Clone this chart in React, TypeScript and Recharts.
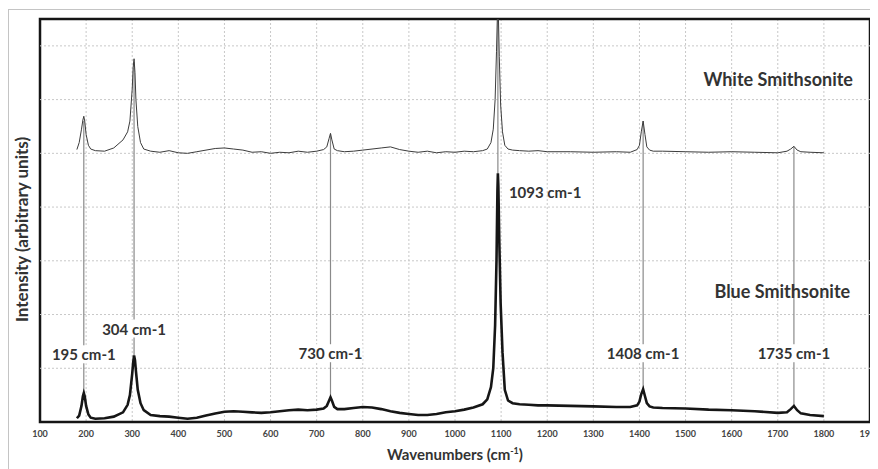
import React from "react";
import {
  LineChart,
  Line,
  XAxis,
  YAxis,
  CartesianGrid,
  ReferenceLine,
  ReferenceArea,
  ReferenceDot,
} from "recharts";

// Wavenumbers (cm-1)
const wavenumbers = [
  180, 185, 190, 193, 195, 197, 200, 205, 210, 220, 240, 260, 280, 290, 295, 300, 302, 304, 306, 308,
  312, 318, 325, 340, 360, 380, 400, 420, 440, 460, 480, 500, 520, 540, 560, 580, 600, 620, 640, 660,
  680, 700, 715, 722, 727, 730, 733, 738, 745, 760, 780, 800, 820, 840, 860, 880, 900, 920, 940, 960,
  980, 1000, 1020, 1040, 1060, 1070, 1078, 1083, 1087, 1090, 1092, 1093, 1094, 1096, 1099, 1103, 1108,
  1115, 1125, 1140, 1160, 1180, 1200, 1250, 1300, 1350, 1380, 1395, 1400, 1404, 1408, 1412, 1416, 1422,
  1430, 1450, 1500, 1550, 1600, 1650, 1700, 1720, 1728, 1735, 1742, 1750, 1770, 1800,
];

// Blue Smithsonite intensity (arbitrary units)
const blueIntensity = [
  0.07, 0.12, 0.3, 0.48, 0.54, 0.48, 0.3, 0.14, 0.08, 0.06, 0.07, 0.1, 0.18, 0.32, 0.5, 0.9, 1.1, 1.24, 1.15, 0.95,
  0.6, 0.35, 0.22, 0.13, 0.11, 0.1, 0.08, 0.06, 0.08, 0.12, 0.16, 0.19, 0.2, 0.19, 0.18, 0.17, 0.18, 0.2, 0.22, 0.23,
  0.22, 0.23, 0.25, 0.3, 0.4, 0.46, 0.4, 0.28, 0.24, 0.24, 0.26, 0.28, 0.27, 0.24, 0.2, 0.17, 0.15, 0.13, 0.13, 0.15,
  0.18, 0.2, 0.23, 0.27, 0.33, 0.42, 0.65, 1.0, 1.8, 3.0, 4.3, 4.63, 4.4, 3.4, 2.2, 1.3, 0.6,
  0.4, 0.35, 0.33, 0.32, 0.31, 0.31, 0.3, 0.29, 0.28, 0.28, 0.31, 0.38, 0.52, 0.61, 0.48, 0.35, 0.29,
  0.27, 0.26, 0.25, 0.23, 0.22, 0.2, 0.17, 0.18, 0.24, 0.3, 0.22, 0.16, 0.13, 0.11,
];

// White Smithsonite intensity (arbitrary units, offset)
const whiteIntensity = [
  5.07, 5.2, 5.45, 5.62, 5.69, 5.6, 5.35, 5.15, 5.08, 5.05, 5.04, 5.1, 5.25, 5.4, 5.6, 6.2, 6.6, 6.76, 6.5, 6.0,
  5.5, 5.2, 5.08, 5.04, 5.02, 5.05, 5.01, 5.0, 5.03, 5.06, 5.09, 5.1, 5.08, 5.06, 5.02, 5.03, 5.0, 5.02, 5.01, 5.04,
  5.02, 5.04, 5.07, 5.12, 5.28, 5.37, 5.25, 5.08, 5.05, 5.03, 5.04, 5.06, 5.08, 5.1, 5.12, 5.07, 5.04, 5.02, 5.04, 5.01,
  5.03, 5.02, 5.04, 5.03, 5.05, 5.08, 5.2, 5.45, 6.0, 6.9, 7.6, 7.8, 7.6, 6.8, 5.9, 5.4, 5.15,
  5.08, 5.06, 5.05, 5.04, 5.05, 5.03, 5.03, 5.02, 5.03, 5.02, 5.07, 5.15, 5.4, 5.6, 5.35, 5.12, 5.06,
  5.04, 5.04, 5.03, 5.02, 5.03, 5.02, 5.01, 5.04, 5.08, 5.13, 5.06, 5.03, 5.02, 5.01,
];

const xTicks = [100, 200, 300, 400, 500, 600, 700, 800, 900, 1000, 1100, 1200, 1300, 1400, 1500, 1600, 1700, 1800, 1900];
const yTicks = [1, 2, 3, 4, 5, 6, 7];

// Peak annotations
const peakPositions = [195, 304, 730, 1093, 1408, 1735];
const peakBlue = [0.54, 1.24, 0.46, 4.63, 0.61, 0.3];
const peakWhite = [5.6, 6.7, 5.37, 7.5, 5.6, 5.13];
const peakLabels = ["195 cm-1", "304 cm-1", "730 cm-1", "1093 cm-1", "1408 cm-1", "1735 cm-1"];
const peakLabelLevel = [1.26, 1.74, 1.28, 4.28, 1.28, 1.28];

const seriesNames = ["White Smithsonite", "Blue Smithsonite"];
const seriesLabelX = [1863, 1857];
const seriesLabelLevel = [6.39, 2.44];

const data = wavenumbers.map((w, i) => ({ w, blue: blueIntensity[i], white: whiteIntensity[i] }));

const FONT = "Lato, 'Open Sans', sans-serif";
const TEXT = "#333333";

const makeLabelShape = (text: string, anchor: "middle" | "start" | "end", dx: number, size: number, bg: boolean) =>
  (props: any) => {
    const { cx, cy } = props;
    const w = text.length * size * 0.5;
    let rx = cx + dx - w / 2;
    if (anchor === "start") rx = cx + dx;
    if (anchor === "end") rx = cx + dx - w;
    return (
      <g>
        {bg && <rect x={rx - 2} y={cy - size * 0.6} width={w + 4} height={size * 1.2} fill="#ffffff" />}
        <text
          x={cx + dx}
          y={cy}
          textAnchor={anchor}
          dominantBaseline="central"
          fontFamily={FONT}
          fontWeight={700}
          fontSize={size}
          fill={TEXT}
        >
          {text}
        </text>
      </g>
    );
  };

export default function App() {
  return (
    <div style={{ position: "relative", width: 878, height: 461 }}>
      <div
        style={{
          position: "absolute",
          left: 0,
          top: 1,
          width: 900,
          height: 500,
          border: "1px solid #c4c4c4",
          pointerEvents: "none",
        }}
      />
      <LineChart width={878} height={461} data={data} margin={{ top: 11, right: 16, left: 0, bottom: 0 }}>
        <CartesianGrid stroke="#c8c8c8" strokeDasharray="2 2" horizontal={false} verticalValues={xTicks} />
        {yTicks.map((t) => (
          <ReferenceLine key={`hg${t}`} y={t} stroke="#c8c8c8" strokeDasharray="2 2" strokeWidth={1} />
        ))}
        <XAxis
          dataKey="w"
          type="number"
          domain={[100, 1900]}
          ticks={xTicks}
          interval={0}
          axisLine={false}
          tickLine={false}
          tickSize={0}
          tickMargin={9}
          height={47}
          tick={{ fontFamily: FONT, fontWeight: 700, fontSize: 9, fill: "#444" }}
          label={(props: any) => {
            const vb = props.viewBox || { x: 32, y: 414, width: 830, height: 47 };
            return (
              <text
                x={vb.x + vb.width / 2}
                y={vb.y + 38}
                textAnchor="middle"
                fontFamily={FONT}
                fontWeight={700}
                fontSize={15}
                fill={TEXT}
              >
                Wavenumbers (cm
                <tspan fontSize={9} dy={-6}>
                  -1
                </tspan>
                <tspan dy={6}>)</tspan>
              </text>
            );
          }}
        />
        <YAxis
          type="number"
          domain={[0, 7.5]}
          ticks={yTicks}
          allowDataOverflow
          axisLine={false}
          tickLine={false}
          tick={false}
          width={32}
          label={(props: any) => {
            const vb = props.viewBox || { x: 0, y: 11, width: 32, height: 403 };
            const cx = vb.x + 13;
            const cy = vb.y + vb.height / 2 + 9;
            return (
              <text
                x={cx}
                y={cy}
                transform={`rotate(-90, ${cx}, ${cy})`}
                textAnchor="middle"
                dominantBaseline="central"
                fontFamily={FONT}
                fontWeight={700}
                fontSize={17}
                fill={TEXT}
              >
                Intensity (arbitrary units)
              </text>
            );
          }}
        />
        {peakPositions.map((p, i) => (
          <ReferenceLine
            key={`rl${i}`}
            segment={[
              { x: p, y: peakBlue[i] },
              { x: p, y: peakWhite[i] },
            ]}
            stroke="#8a8a8a"
            strokeWidth={1.2}
            ifOverflow="visible"
          />
        ))}
        <Line
          type="linear"
          dataKey="white"
          stroke="#3c3c3c"
          strokeWidth={1}
          dot={false}
          isAnimationActive={false}
        />
        <Line
          type="linear"
          dataKey="blue"
          stroke="#161616"
          strokeWidth={2.6}
          dot={false}
          isAnimationActive={false}
        />
        {peakPositions.map((p, i) => (
          <ReferenceDot
            key={`lb${i}`}
            x={p}
            y={peakLabelLevel[i]}
            r={0}
            ifOverflow="visible"
            shape={
              p === 1093
                ? makeLabelShape(peakLabels[i], "start", 11, 15, false)
                : makeLabelShape(peakLabels[i], "middle", 0, 15, true)
            }
          />
        ))}
        {seriesNames.map((n, i) => (
          <ReferenceDot
            key={`sn${i}`}
            x={seriesLabelX[i]}
            y={seriesLabelLevel[i]}
            r={0}
            ifOverflow="visible"
            shape={makeLabelShape(n, "end", 0, 18, false)}
          />
        ))}
        <ReferenceArea
          x1={100}
          x2={1900}
          y1={0}
          y2={7.5}
          fill="none"
          fillOpacity={0}
          stroke="#151515"
          strokeWidth={2.5}
          ifOverflow="visible"
        />
      </LineChart>
    </div>
  );
}
